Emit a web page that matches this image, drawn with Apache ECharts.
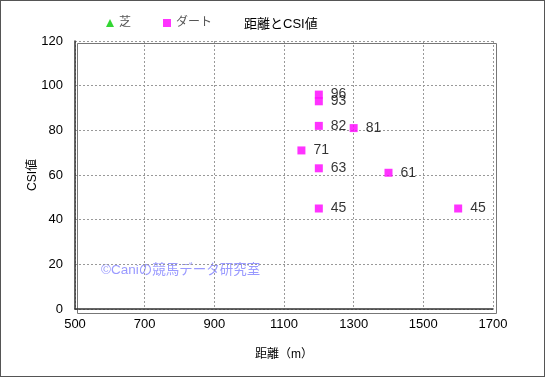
<!DOCTYPE html>
<html>
<head>
<meta charset="utf-8">
<script src="https://cdn.jsdelivr.net/npm/echarts@6/dist/echarts.min.js"></script>
<style>
  html, body { margin: 0; padding: 0; background: #fff; }
  #chart { width: 543px; height: 375px; border: 1px solid #555; }
</style>
</head>
<body>
<div id="chart"></div>
<script>
// データ
const distances = [1200, 1200, 1200, 1300, 1150, 1200, 1400, 1200, 1600];
const csiValues = [96, 93, 82, 81, 71, 63, 61, 45, 45];
const turfPoints = [];
const xTicks = [500, 700, 900, 1100, 1300, 1500, 1700];
const yTicks = [0, 20, 40, 60, 80, 100, 120];

const font = "'Liberation Sans', 'Noto Sans CJK JP', sans-serif";
const chart = echarts.init(document.getElementById('chart'));

const dirtData = distances.map((d, i) => [d, csiValues[i]]);

chart.setOption({
  animation: false,
  textStyle: { fontFamily: font },
  title: {
    text: '距離とCSI値',
    left: 238,
    top: 12,
    textStyle: { fontSize: 13, fontWeight: 'normal', color: '#000', fontFamily: font }
  },
  legend: {
    left: 100,
    top: 11,
    itemWidth: 8,
    itemHeight: 8,
    itemGap: 32,
    textStyle: { fontSize: 12, color: '#555', fontFamily: font },
    data: [
      { name: '芝', icon: 'triangle' },
      { name: 'ダート', icon: 'rect' }
    ]
  },
  grid: { left: 74, right: 51, top: 40, bottom: 67 },
  xAxis: {
    type: 'value',
    min: xTicks[0],
    max: xTicks[xTicks.length - 1],
    interval: 200,
    name: '距離（m）',
    nameLocation: 'middle',
    nameGap: 40,
    nameMoveOverlap: false,
    nameTextStyle: { fontSize: 12, color: '#000', fontFamily: font },
    axisLine: { lineStyle: { color: '#333', width: 1.5 } },
    axisTick: { show: false },
    axisLabel: { fontSize: 13, color: '#000', margin: 9, formatter: v => String(v) },
    splitLine: { lineStyle: { color: '#999', type: [2, 2] } }
  },
  yAxis: {
    type: 'value',
    min: yTicks[0],
    max: yTicks[yTicks.length - 1],
    interval: 20,
    name: 'CSI値',
    nameLocation: 'middle',
    nameGap: 36,
    nameRotate: 90,
    nameMoveOverlap: false,
    nameTextStyle: { fontSize: 12, color: '#000', fontFamily: font },
    axisLine: { show: true, lineStyle: { color: '#333', width: 1.5 } },
    axisTick: { show: false },
    axisLabel: { fontSize: 13, color: '#000', margin: 12 },
    splitLine: { lineStyle: { color: '#999', type: [2, 2] } }
  },
  graphic: [
    {
      type: 'rect',
      left: 74, top: 40,
      shape: { width: 419, height: 270 },
      style: { fill: 'none', stroke: '#777', lineWidth: 1 },
      silent: true,
      z: -1
    },
    {
      type: 'text',
      left: 100,
      top: 263,
      style: { text: '©Caniの競馬データ研究室', fill: '#9a9aff', font: "13.5px " + font }
    }
  ],
  series: [
    {
      name: '芝',
      type: 'scatter',
      symbol: 'triangle',
      symbolSize: 8,
      itemStyle: { color: '#00cc00' },
      data: turfPoints
    },
    {
      name: 'ダート',
      type: 'scatter',
      symbol: 'rect',
      symbolSize: 8,
      itemStyle: { color: '#ff00ff' },
      label: {
        show: true,
        position: 'right',
        distance: 8,
        fontSize: 14,
        color: '#000',
        fontFamily: font,
        formatter: p => p.value[1]
      },
      data: dirtData
    }
  ]
});
</script>
</body>
</html>
